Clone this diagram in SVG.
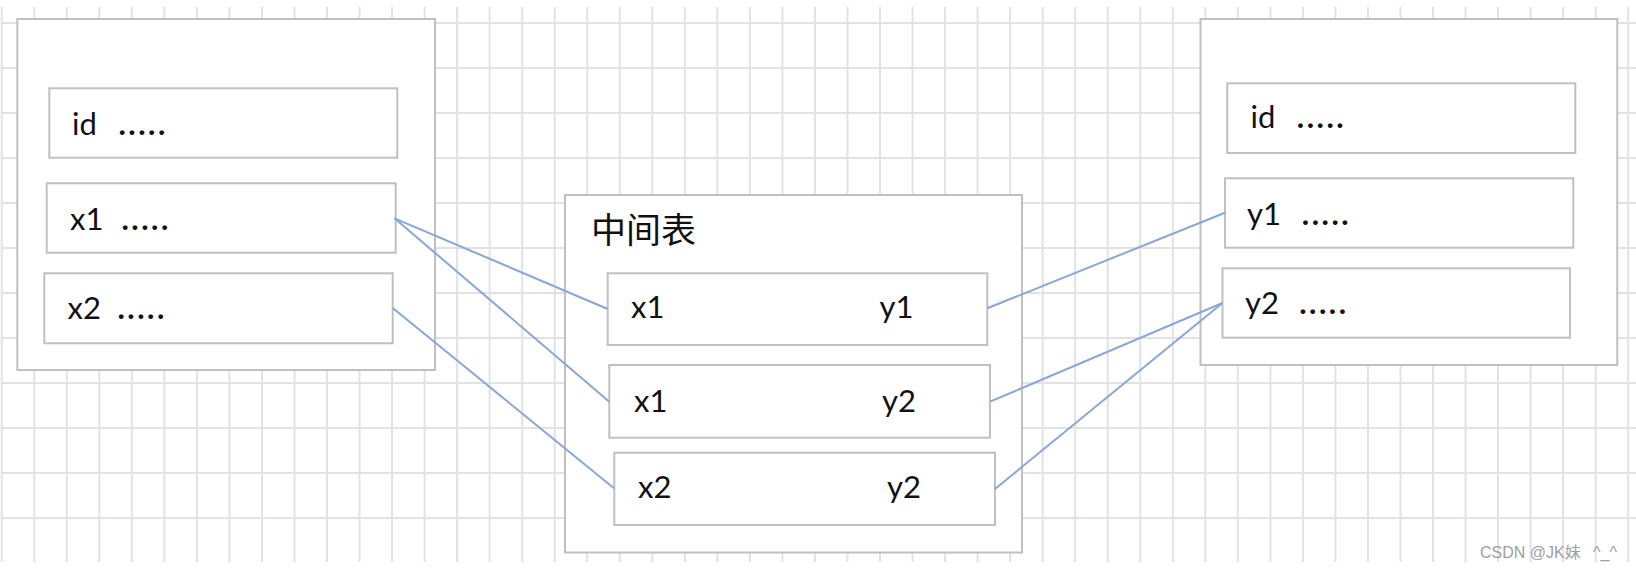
<svg xmlns="http://www.w3.org/2000/svg" width="1636" height="570" viewBox="0 0 1636 570">
<style>
.grid{stroke:#e0e2e4;stroke-width:2;fill:none}
.box{fill:#fff;stroke:#c0c0c0;stroke-width:2}
.t{font-family:Lato,"Open Sans","Liberation Sans",sans-serif;font-size:31px;fill:#111}
.d{letter-spacing:2.5px;font-weight:700}
.cn{font-family:"Noto Sans CJK SC","Noto Sans",sans-serif;font-size:35px;fill:#111}
.conn line{stroke:#8aa6d6;stroke-width:2}
.wm{font-family:"Liberation Sans","Noto Sans CJK SC",sans-serif;font-size:16px;fill:#a0a0a0}
</style>
<rect x="0" y="0" width="1636" height="570" fill="#fff"/>
<g id="grid">
<path class="grid" d="M1.7 7V562M34.23 7V562M66.76 7V562M99.29 7V562M131.82 7V562M164.35 7V562M196.88 7V562M229.41 7V562M261.94 7V562M294.47 7V562M327 7V562M359.53 7V562M392.06 7V562M424.59 7V562M457.12 7V562M489.65 7V562M522.18 7V562M554.71 7V562M587.24 7V562M619.77 7V562M652.3 7V562M684.83 7V562M717.36 7V562M749.89 7V562M782.42 7V562M814.95 7V562M847.48 7V562M880.01 7V562M912.54 7V562M945.07 7V562M977.6 7V562M1010.13 7V562M1042.66 7V562M1075.19 7V562M1107.72 7V562M1140.25 7V562M1172.78 7V562M1205.31 7V562M1237.84 7V562M1270.37 7V562M1302.9 7V562M1335.43 7V562M1367.96 7V562M1400.49 7V562M1433.02 7V562M1465.55 7V562M1498.08 7V562M1530.61 7V562M1563.14 7V562M1595.67 7V562M1628.2 7V562M1 22.9H1636M1 67.9H1636M1 112.9H1636M1 157.9H1636M1 202.9H1636M1 247.9H1636M1 292.9H1636M1 337.9H1636M1 382.9H1636M1 427.9H1636M1 472.9H1636M1 517.9H1636"/>
</g>
<g id="left-table">
<rect class="box" x="17.3" y="19" width="417.7" height="351"/>
<g id="left-id"><rect class="box" x="49.3" y="88.3" width="348" height="69.4"/><text class="t" x="72" y="135">id <tspan class="d" x="118.5">.....</tspan></text></g>
<g id="left-x1"><rect class="box" x="46.7" y="183.3" width="349" height="69.4"/><text class="t" x="70" y="230">x1 <tspan class="d" x="121.5">.....</tspan></text></g>
<g id="left-x2"><rect class="box" x="44.3" y="273.3" width="348.4" height="70"/><text class="t" x="67.5" y="319.3">x2 <tspan class="d" x="117.5">.....</tspan></text></g>
</g>
<g id="middle-table">
<rect class="box" x="565" y="195" width="457" height="357.5"/>
<text class="cn" x="591" y="243">中间表</text>
<g id="mid-row1"><rect class="box" x="607.7" y="273.3" width="379.6" height="71.7"/><text class="t" x="631" y="318.3">x1</text><text class="t" x="879.5" y="318.3">y1</text></g>
<g id="mid-row2"><rect class="box" x="609.3" y="365" width="380.7" height="72.7"/><text class="t" x="634" y="412.3">x1</text><text class="t" x="882" y="412.3">y2</text></g>
<g id="mid-row3"><rect class="box" x="614.3" y="452.7" width="380.7" height="72.3"/><text class="t" x="638" y="498.3">x2</text><text class="t" x="887" y="498.3">y2</text></g>
</g>
<g id="right-table">
<rect class="box" x="1200.5" y="19" width="416.8" height="346"/>
<g id="right-id"><rect class="box" x="1227.3" y="83.3" width="348" height="69.7"/><text class="t" x="1250.5" y="128.3">id <tspan class="d" x="1296.8">.....</tspan></text></g>
<g id="right-y1"><rect class="box" x="1225" y="178.3" width="348.3" height="69.4"/><text class="t" x="1247" y="225">y1 <tspan class="d" x="1301.8">.....</tspan></text></g>
<g id="right-y2"><rect class="box" x="1222.5" y="268.3" width="347.5" height="69.4"/><text class="t" x="1245" y="314">y2 <tspan class="d" x="1299.2">.....</tspan></text></g>
</g>
<g id="connectors" class="conn">
<line x1="394.5" y1="218.3" x2="607.7" y2="309"/>
<line x1="394.5" y1="218.3" x2="609.3" y2="401.7"/>
<line x1="392.7" y1="308" x2="614.3" y2="488.5"/>
<line x1="987.3" y1="308.3" x2="1225" y2="212.7"/>
<line x1="990" y1="401.7" x2="1222.5" y2="303"/>
<line x1="995" y1="489" x2="1222.5" y2="303"/>
</g>
<text class="wm" x="1480" y="558">CSDN @JK妹 <tspan x="1593">^_^</tspan></text>
</svg>
